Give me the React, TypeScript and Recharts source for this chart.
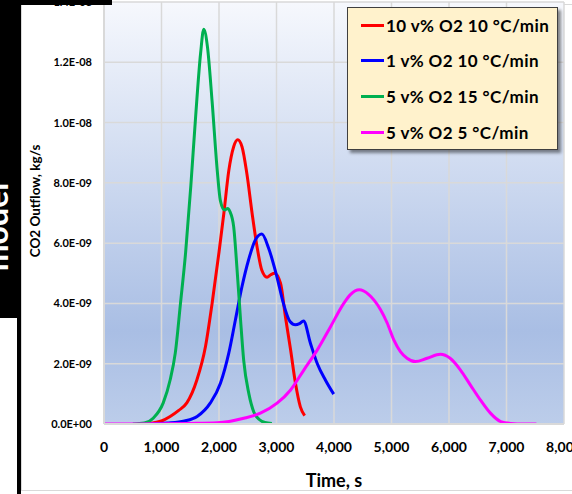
import React from 'react';
import { LineChart, Line, XAxis, YAxis, CartesianGrid, Label } from 'recharts';

// Series: time (s) and CO2 outflow (in units of 1e-9 kg/s)
const redT = [600, 800, 1000, 1150, 1300, 1440, 1615, 1765, 1880, 2000, 2085, 2170, 2255, 2325, 2400, 2485, 2575, 2660, 2745, 2835, 2900, 2965, 3070, 3155, 3245, 3330, 3415, 3490];
const redV = [0, 0.02, 0.1, 0.25, 0.45, 0.7, 1.46, 2.57, 4.0, 5.7, 7.0, 8.4, 9.2, 9.43, 9.2, 8.3, 7.0, 5.9, 5.1, 4.87, 4.95, 5.0, 4.67, 3.56, 2.46, 1.35, 0.57, 0.28];

const blueT = [800, 1100, 1400, 1620, 1850, 2025, 2170, 2285, 2400, 2515, 2630, 2745, 2860, 3005, 3120, 3235, 3330, 3400, 3470, 3590, 3710, 3850, 3995];
const blueV = [0, 0.03, 0.1, 0.25, 0.7, 1.35, 2.35, 3.45, 4.56, 5.45, 6.1, 6.3, 5.85, 4.9, 4.0, 3.4, 3.29, 3.33, 3.42, 2.68, 2.0, 1.46, 0.99];

const greenT = [500, 700, 860, 1030, 1150, 1240, 1330, 1420, 1510, 1590, 1680, 1735, 1800, 1880, 1970, 2025, 2095, 2150, 2190, 2255, 2315, 2375, 2430, 2520, 2605, 2700, 2800, 2920];
const greenV = [0, 0.03, 0.2, 0.7, 1.46, 2.36, 4.0, 5.7, 7.9, 10.1, 12.3, 13.1, 12.5, 10.7, 8.4, 7.4, 7.1, 7.15, 7.05, 6.55, 5.1, 3.45, 2.1, 1.0, 0.4, 0.15, 0.05, 0.02];

const magT = [0, 500, 1000, 1500, 1970, 2430, 2720, 3010, 3245, 3475, 3710, 3940, 4170, 4285, 4440, 4600, 4700, 4810, 4925, 5040, 5155, 5270, 5415, 5620, 5850, 6020, 6200, 6370, 6545, 6720, 6900, 7070, 7300, 7520];
const magV = [0, 0, 0.01, 0.02, 0.04, 0.19, 0.36, 0.69, 1.13, 1.79, 2.46, 3.23, 4.0, 4.29, 4.45, 4.3, 4.1, 3.79, 3.35, 2.79, 2.4, 2.18, 2.07, 2.18, 2.31, 2.18, 1.79, 1.3, 0.8, 0.36, 0.08, 0.02, 0, 0];

const seriesNames = ['10 v% O2 10 °C/min', '1 v% O2 10 °C/min', '5 v% O2 15 °C/min', '5 v% O2 5 °C/min'];
const seriesColors = ['#ff0000', '#0000ff', '#00b050', '#ff00ff'];

const xTicks = [0, 1000, 2000, 3000, 4000, 5000, 6000, 7000, 8000];
const yTicksNano = [0, 2, 4, 6, 8, 10, 12, 14];

const SCALE = 1e-9;
const build = (ts: number[], vs: number[]) => ts.map((t, i) => ({ t, v: vs[i] * SCALE }));
const seriesData = [build(redT, redV), build(blueT, blueV), build(greenT, greenV), build(magT, magV)];
const yTicks = yTicksNano.map((n) => n * SCALE);

const FONT = 'Lato, "Open Sans", sans-serif';

function fmtSci(v: number): string {
  if (Math.abs(v) < 1e-20) return '0.0E+00';
  let e = Math.floor(Math.log10(v) + 1e-9);
  let m = v / Math.pow(10, e);
  if (m >= 9.95) { m /= 10; e += 1; }
  return m.toFixed(1) + 'E' + (e < 0 ? '-' : '+') + String(Math.abs(e)).padStart(2, '0');
}

const fmtComma = (v: number) => v.toLocaleString('en-US');

const YTick = (props: any) => {
  const { y, payload } = props;
  return (
    <text x={92} y={y} dy={4} textAnchor="end" fontSize={11} fontWeight={700} fontFamily={FONT} fill="#000">
      {fmtSci(payload.value)}
    </text>
  );
};

const XTick = (props: any) => {
  const { x, payload } = props;
  return (
    <text x={x} y={452} textAnchor="middle" fontSize={14} fontWeight={700} fontFamily={FONT} fill="#000">
      {fmtComma(payload.value)}
    </text>
  );
};

export default function App() {
  return (
    <div style={{ position: 'absolute', left: 0, top: 0, width: 572, height: 494, overflow: 'hidden', background: '#fff' }}>
      <div style={{ position: 'absolute', left: 21, top: 4, width: 600, height: 487, border: '1px solid #d9d9d9', boxSizing: 'border-box' }} />
      <div style={{ position: 'absolute', left: 0, top: 0 }}>
        <LineChart width={572} height={494} margin={{ top: 2, right: 8, bottom: 0, left: 0 }}>
          <defs>
            <linearGradient id="plotGrad" x1="0" y1="0" x2="0" y2="1">
              <stop offset="0%" stopColor="#f6f8fd" />
              <stop offset="78%" stopColor="#a9bee4" />
              <stop offset="100%" stopColor="#bccdea" />
            </linearGradient>
          </defs>
          <CartesianGrid fill="url(#plotGrad)" stroke="#d9d9d9" strokeWidth={1.5} horizontalValues={yTicks} verticalValues={xTicks} />
          <XAxis
            dataKey="t"
            type="number"
            domain={[0, 8000]}
            ticks={xTicks}
            interval={0}
            tick={<XTick />}
            tickLine={false}
            axisLine={{ stroke: '#d9d9d9', strokeWidth: 2 }}
            height={70}
            allowDataOverflow
          >
            <Label
              content={() => (
                <text x={334} y={487} textAnchor="middle" fontSize={18} fontWeight={700} fontFamily={FONT} fill="#000">
                  Time, s
                </text>
              )}
            />
          </XAxis>
          <YAxis
            type="number"
            domain={[0, 14 * SCALE]}
            ticks={yTicks}
            interval={0}
            tick={<YTick />}
            tickLine={false}
            axisLine={{ stroke: '#d9d9d9', strokeWidth: 2 }}
            width={104}
            allowDataOverflow
          >
            <Label
              content={() => (
                <text
                  x={35}
                  y={201}
                  transform="rotate(-90, 35, 201)"
                  textAnchor="middle"
                  dominantBaseline="central"
                  fontSize={13.5}
                  fontWeight={700}
                  fontFamily={FONT}
                  fill="#000"
                >
                  CO2 Outflow, kg/s
                </text>
              )}
            />
          </YAxis>
          {seriesData.map((d, i) => (
            <Line
              key={seriesNames[i]}
              data={d}
              dataKey="v"
              name={seriesNames[i]}
              type="monotone"
              stroke={seriesColors[i]}
              strokeWidth={3}
              dot={false}
              activeDot={false}
              isAnimationActive={false}
            />
          ))}
        </LineChart>
      </div>

      {/* Legend */}
      <div
        style={{
          position: 'absolute',
          left: 347,
          top: 7,
          width: 211,
          height: 143,
          boxSizing: 'border-box',
          background: '#fff2cc',
          border: '1px solid #3f3f3f',
          boxShadow: '3px 3px 3px rgba(0,0,0,0.45)',
        }}
      >
        {seriesNames.map((n, i) => (
          <div
            key={n}
            style={{ position: 'absolute', left: 0, top: 17 + i * 35.7 - 11, height: 22, display: 'flex', alignItems: 'center' }}
          >
            <div style={{ marginLeft: 13, width: 23, height: 3, background: seriesColors[i] }} />
            <span style={{ marginLeft: 2, fontFamily: FONT, fontWeight: 700, fontSize: 17, letterSpacing: 0.4, color: '#000', whiteSpace: 'nowrap' }}>{n}</span>
          </div>
        ))}
      </div>

      {/* Cropped dark frame from the source screenshot */}
      <div style={{ position: 'absolute', left: 0, top: 0, width: 112, height: 5, background: '#000' }} />
      <div style={{ position: 'absolute', left: 17, top: 0, width: 4, height: 494, background: '#000' }} />
      <svg style={{ position: 'absolute', left: 0, top: 0 }} width={21} height={318}>
        <rect x={0} y={0} width={21} height={318} fill="#000" />
        <text
          x={8}
          y={227}
          transform="rotate(-90, 8, 227)"
          textAnchor="middle"
          fontSize={32}
          fontWeight={700}
          fontFamily={FONT}
          fill="#fff"
        >
          model
        </text>
      </svg>
    </div>
  );
}
